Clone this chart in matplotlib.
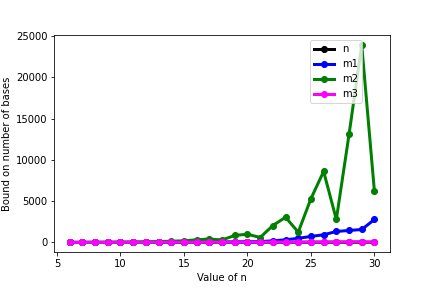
import matplotlib.pyplot as plt

n = list(range(6, 31))
m1 = [6, 8, 10, 12, 14, 17, 20, 24, 28, 33, 40, 48, 57, 68, 82, 100, 200, 320, 500, 730, 930, 1330, 1450, 1570, 2780]
m2 = [10, 15, 20, 30, 40, 60, 80, 110, 150, 200, 320, 420, 300, 850, 1000, 600, 2050, 3050, 1250, 5300, 8600, 2780, 13070, 23900, 6170]
m3 = [5, 6, 8, 9, 11, 12, 14, 16, 18, 20, 23, 26, 29, 33, 37, 41, 46, 51, 57, 63, 70, 78, 86, 95, 40]

plt.figure(figsize=(6, 4), dpi=72)
plt.subplots_adjust(left=0.126, right=0.902, top=0.878, bottom=0.124)
plt.plot(n, n, marker='o', color='black', linewidth=3, label='n')
plt.plot(n, m1, marker='o', color='blue', linewidth=3, label='m1')
plt.plot(n, m2, marker='o', color='green', linewidth=3, label='m2')
plt.plot(n, m3, marker='o', color='magenta', linewidth=3, label='m3')
plt.xlabel('Value of n')
plt.ylabel('Bound on number of bases')
plt.legend(loc='upper right', bbox_to_anchor=(0.932, 1))
plt.savefig('out.png', dpi=72)
